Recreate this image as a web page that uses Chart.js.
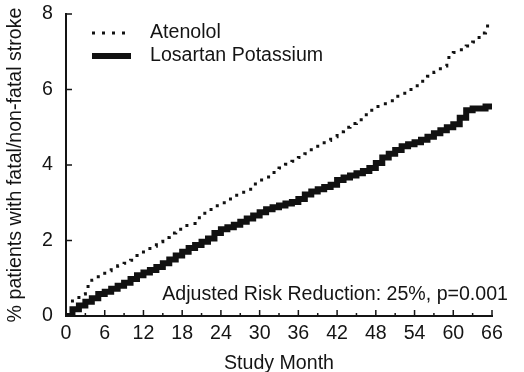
<!DOCTYPE html>
<html>
<head>
<meta charset="utf-8">
<script src="https://cdn.jsdelivr.net/npm/chart.js@4.4.0/dist/chart.umd.min.js"></script>
<style>
  html, body { margin: 0; padding: 0; background: #fff; }
  #wrap { width: 524px; height: 372px; }
</style>
</head>
<body>
<div id="wrap"><canvas id="myChart"></canvas></div>
<script>

var months = [0, 1, 2, 3, 4, 5, 6, 7, 8, 9, 10, 11, 12, 13, 14, 15, 16, 17, 18, 19, 20,
  21, 22, 23, 24, 25, 26, 27, 28, 29, 30, 31, 32, 33, 34, 35, 36, 37, 38, 39, 40,
  41, 42, 43, 44, 45, 46, 47, 48, 49, 50, 51, 52, 53, 54, 55, 56, 57, 58, 59, 60,
  61, 62, 63, 64, 65, 66];

var atenolol = [0, 0.4, 0.58, 0.78, 0.95, 1.08, 1.2, 1.27, 1.33, 1.4, 1.48,
  1.6, 1.75, 1.85, 1.97, 2.08, 2.2, 2.3, 2.4, 2.45, 2.6,
  2.72, 2.82, 2.92, 3.0, 3.1, 3.2, 3.28, 3.36, 3.5, 3.6,
  3.68, 3.8, 3.92, 4.02, 4.1, 4.2, 4.3, 4.45, 4.55, 4.65,
  4.75, 4.88, 5.0, 5.1, 5.2, 5.33, 5.45, 5.55, 5.62, 5.7,
  5.82, 5.9, 6.0, 6.1, 6.22, 6.35, 6.46, 6.62, 6.85, 6.98,
  7.05, 7.15, 7.26, 7.5, 7.68, 7.76];

var losartan = [0, 0.18, 0.28, 0.38, 0.47, 0.58, 0.64, 0.72, 0.8, 0.88, 0.98,
  1.08, 1.15, 1.22, 1.3, 1.4, 1.5, 1.6, 1.7, 1.8, 1.88,
  1.97, 2.05, 2.2, 2.3, 2.35, 2.42, 2.5, 2.58, 2.66, 2.75,
  2.83, 2.88, 2.93, 2.98, 3.02, 3.1, 3.22, 3.3, 3.36, 3.42,
  3.48, 3.6, 3.67, 3.72, 3.78, 3.84, 3.92, 4.05, 4.2, 4.3,
  4.4, 4.5, 4.55, 4.6, 4.67, 4.75, 4.84, 4.92, 5.0, 5.08,
  5.25, 5.45, 5.5, 5.5, 5.55, 5.58];

var seriesNames = ["Atenolol", "Losartan Potassium"];
var note = "Adjusted Risk Reduction: 25%, p=0.001";

var ink = '#141414';
var fontName = "'Liberation Sans', Arial, sans-serif";
var fontSize = 19.6;

function toPoints(ys) {
  return months.map(function (m, i) { return { x: m, y: ys[i] }; });
}

// ticks pointing into the plot, legend inside the plot and the note
var extras = {
  id: 'extras',
  afterDraw: function (chart) {
    var ctx = chart.ctx;
    var xs = chart.scales.x, ys = chart.scales.y;
    var area = chart.chartArea;
    ctx.save();
    ctx.strokeStyle = ink;
    ctx.lineWidth = 1.5;
    ctx.beginPath();
    for (var m = 0; m <= 66; m += 3) {
      var px = xs.getPixelForValue(m);
      var len = (m % 6 === 0) ? 6 : 3;
      ctx.moveTo(px, area.bottom);
      ctx.lineTo(px, area.bottom - len);
    }
    ys.ticks.forEach(function (t) {
      var py = ys.getPixelForValue(t.value);
      ctx.moveTo(area.left, py);
      ctx.lineTo(area.left + 6, py);
    });
    ctx.stroke();

    // legend
    ctx.font = fontSize + 'px ' + fontName;
    ctx.fillStyle = ink;
    ctx.textBaseline = 'middle';
    ctx.textAlign = 'left';
    chart.data.datasets.forEach(function (ds, i) {
      var ly = area.top + 19 + i * 23;
      ctx.save();
      ctx.strokeStyle = ds.borderColor;
      ctx.lineWidth = ds.borderWidth;
      ctx.setLineDash(ds.borderDash || []);
      ctx.beginPath();
      ctx.moveTo(area.left + 26, ly);
      ctx.lineTo(area.left + (i === 0 ? 60 : 65), ly);
      ctx.stroke();
      ctx.restore();
      ctx.fillText(ds.label, area.left + 84, ly);
    });

    ctx.textAlign = 'right';
    ctx.textBaseline = 'alphabetic';
    ctx.fillText(note, area.right + 16, area.bottom - 16);
    ctx.restore();
  }
};

new Chart("myChart", {
  type: "line",
  data: {
    datasets: [{
      label: seriesNames[0],
      data: toPoints(atenolol),
      borderColor: '#111',
      borderWidth: 3,
      borderDash: [3, 7],
      stepped: true,
      pointRadius: 0
    }, {
      label: seriesNames[1],
      data: toPoints(losartan),
      borderColor: '#111',
      borderWidth: 6,
      borderJoinStyle: 'miter',
      stepped: true,
      pointRadius: 0
    }]
  },
  options: {
    responsive: true,
    maintainAspectRatio: false,
    animation: false,
    layout: { padding: { left: 0, right: 32, top: 14, bottom: 0 } },
    plugins: {
      legend: { display: false },
      tooltip: { enabled: false }
    },
    scales: {
      x: {
        type: 'linear',
        min: 0,
        max: 66,
        grid: { display: false, drawTicks: false },
        border: { display: true, color: ink, width: 2 },
        ticks: {
          stepSize: 6,
          padding: 6,
          color: ink,
          font: { family: fontName, size: fontSize }
        },
        title: {
          display: true,
          text: 'Study Month',
          color: ink,
          padding: { top: 0, bottom: -3 },
          font: { family: fontName, size: fontSize }
        },
        afterFit: function (scale) {
          scale.height = 56;
          scale.paddingLeft = 0;
          scale.paddingRight = 0;
        }
      },
      y: {
        min: 0,
        max: 8,
        grid: { display: false, drawTicks: false },
        border: { display: true, color: ink, width: 2 },
        ticks: {
          stepSize: 2,
          padding: 13,
          color: ink,
          font: { family: fontName, size: fontSize }
        },
        title: {
          display: true,
          text: '% patients with fatal/non-fatal stroke',
          color: ink,
          padding: { top: 4, bottom: 0 },
          font: { family: fontName, size: fontSize }
        },
        afterFit: function (scale) {
          scale.width = 66;
          scale.paddingTop = 0;
          scale.paddingBottom = 0;
        }
      }
    }
  },
  plugins: [extras]
});
</script>
</body>
</html>
